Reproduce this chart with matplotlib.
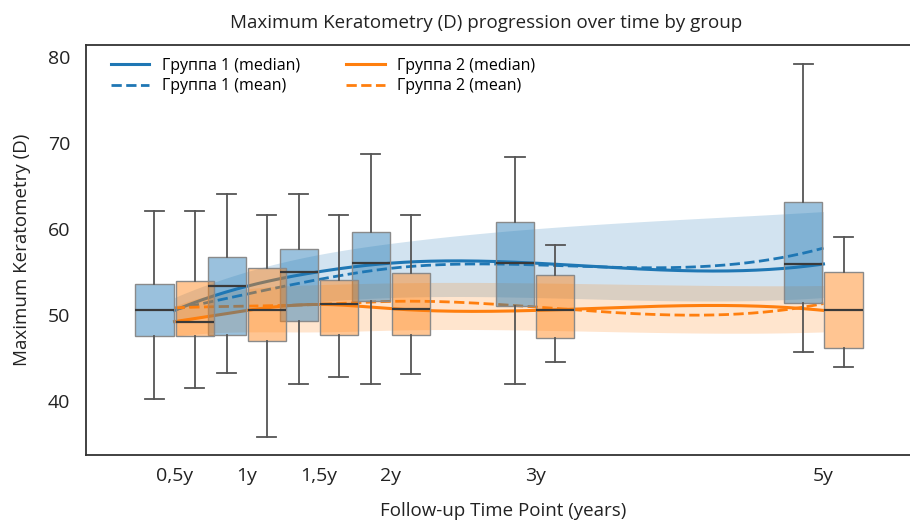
import numpy as np
import matplotlib
matplotlib.use('Agg')
import matplotlib.pyplot as plt

plt.rcParams['font.family'] = ['Open Sans', 'DejaVu Sans']

# time points (years) and tick labels
years = [0.5, 1, 1.5, 2, 3, 5]
tick_labels = ['0,5y', '1y', '1,5y', '2y', '3y', '5y']

# box stats per time point: whisker low, q1, median, q3, whisker high
g1_low = [40.2, 43.2, 41.9, 41.9, 41.9, 45.7]
g1_q1 = [47.5, 47.6, 49.3, 51.6, 51.0, 51.4]
g1_med = [50.5, 53.3, 55.0, 56.0, 56.0, 55.9]
g1_q3 = [53.6, 56.7, 57.7, 59.6, 60.8, 63.1]
g1_high = [62.1, 64.1, 64.1, 68.7, 68.4, 79.2]

g2_low = [41.5, 35.8, 42.7, 43.1, 44.5, 43.9]
g2_q1 = [47.5, 47.0, 47.6, 47.6, 47.3, 46.1]
g2_med = [49.2, 50.5, 51.2, 50.7, 50.5, 50.5]
g2_q3 = [53.9, 55.4, 54.0, 54.85, 54.65, 55.0]
g2_high = [62.1, 61.6, 61.6, 61.6, 58.1, 59.0]

# mean curves
g1_mean = [50.6, 52.4, 54.1, 55.4, 55.8, 57.75]
g2_mean = [50.8, 51.0, 51.2, 51.55, 50.9, 51.3]

# shaded bands
g1_band_lo = [49.0, 50.5, 51.5, 52.0, 52.0, 52.0]
g1_band_hi = [52.0, 55.0, 57.0, 58.3, 60.0, 62.0]
g2_band_lo = [47.5, 48.0, 48.0, 48.2, 48.2, 48.0]
g2_band_hi = [51.0, 53.0, 53.5, 53.7, 53.7, 53.4]

blue = '#1f77b4'
orange = '#ff7f0e'


def smooth(x, y, n=300):
    # cubic spline, not-a-knot ends
    x = np.asarray(x, float)
    y = np.asarray(y, float)
    k = len(x)
    h = np.diff(x)
    A = np.zeros((k, k))
    b = np.zeros(k)
    for i in range(1, k - 1):
        A[i, i - 1] = h[i - 1]
        A[i, i] = 2 * (h[i - 1] + h[i])
        A[i, i + 1] = h[i]
        b[i] = 6 * ((y[i + 1] - y[i]) / h[i] - (y[i] - y[i - 1]) / h[i - 1])
    A[0, 0], A[0, 1], A[0, 2] = h[1], -(h[0] + h[1]), h[0]
    A[-1, -3], A[-1, -2], A[-1, -1] = h[-1], -(h[-2] + h[-1]), h[-2]
    M = np.linalg.solve(A, b)
    xs = np.linspace(x[0], x[-1], n)
    idx = np.clip(np.searchsorted(x, xs) - 1, 0, k - 2)
    x0, x1 = x[idx], x[idx + 1]
    hh = x1 - x0
    ys = (M[idx] * (x1 - xs) ** 3 / (6 * hh) + M[idx + 1] * (xs - x0) ** 3 / (6 * hh)
          + (y[idx] / hh - M[idx] * hh / 6) * (x1 - xs)
          + (y[idx + 1] / hh - M[idx + 1] * hh / 6) * (xs - x0))
    return xs, ys


fig = plt.figure(figsize=(9.1, 5.21), dpi=100)
ax = fig.add_axes([0.094, 0.127, 0.906, 0.787])

# bands
xs, lo = smooth(years, g1_band_lo)
_, hi = smooth(years, g1_band_hi)
ax.fill_between(xs, lo, hi, color=blue, alpha=0.2, lw=0, zorder=1)
xs, lo = smooth(years, g2_band_lo)
_, hi = smooth(years, g2_band_hi)
ax.fill_between(xs, lo, hi, color=orange, alpha=0.2, lw=0, zorder=1)

# lines
xs, ys = smooth(years, g1_med)
ax.plot(xs, ys, color=blue, lw=2.2, zorder=2, label='Группа 1 (median)')
xs, ys = smooth(years, g1_mean)
ax.plot(xs, ys, color=blue, lw=2, ls='--', zorder=2, label='Группа 1 (mean)')
xs, ys = smooth(years, g2_med)
ax.plot(xs, ys, color=orange, lw=2.2, zorder=2, label='Группа 2 (median)')
xs, ys = smooth(years, g2_mean)
ax.plot(xs, ys, color=orange, lw=2, ls='--', zorder=2, label='Группа 2 (mean)')

# boxes
off = 0.139
bw = 0.264


def stats(low, q1, med, q3, high):
    return [dict(whislo=a, q1=b, med=c, q3=d, whishi=e, fliers=[])
            for a, b, c, d, e in zip(low, q1, med, q3, high)]


for st, shift, col in [(stats(g1_low, g1_q1, g1_med, g1_q3, g1_high), -off, blue),
                       (stats(g2_low, g2_q1, g2_med, g2_q3, g2_high), off, orange)]:
    ax.bxp(st, positions=[t + shift for t in years], widths=bw, patch_artist=True,
           showfliers=False, manage_ticks=False, zorder=3,
           boxprops=dict(facecolor=matplotlib.colors.to_rgba(col, 0.45),
                         edgecolor='#8a8a8a', linewidth=1),
           medianprops=dict(color='#3a3a3a', linewidth=1.6),
           whiskerprops=dict(color='#555555', linewidth=1.3),
           capprops=dict(color='#555555', linewidth=1.3))

ax.set_xlim(-0.117, 5.6)
ax.set_ylim(33.7, 81.4)
ax.set_xticks(years)
ax.set_xticklabels(tick_labels)
ax.set_yticks([40, 50, 60, 70, 80])
ax.tick_params(axis='both', length=0, labelsize=14, colors='#222222')
ax.tick_params(axis='x', pad=9)
ax.tick_params(axis='y', pad=11)
for s in ['left', 'top', 'bottom']:
    ax.spines[s].set_color('#333333')
    ax.spines[s].set_linewidth(1.3)
ax.spines['right'].set_visible(False)

ax.set_title('Maximum Keratometry (D) progression over time by group',
             fontsize=13.5, x=0.486, pad=12, color='#222222')
ax.set_xlabel('Follow-up Time Point (years)', fontsize=13.5, x=0.507, labelpad=12,
              color='#222222')
ax.set_ylabel('Maximum Keratometry (D)', fontsize=13.5, labelpad=12, color='#222222')

ax.legend(loc='upper left', ncol=2, frameon=False, fontsize=11.5, handlelength=2.4,
          columnspacing=2.9, labelspacing=0.3, borderaxespad=0.4,
          bbox_to_anchor=(0.015, 1.0))

fig.savefig('out.png', dpi=100)
